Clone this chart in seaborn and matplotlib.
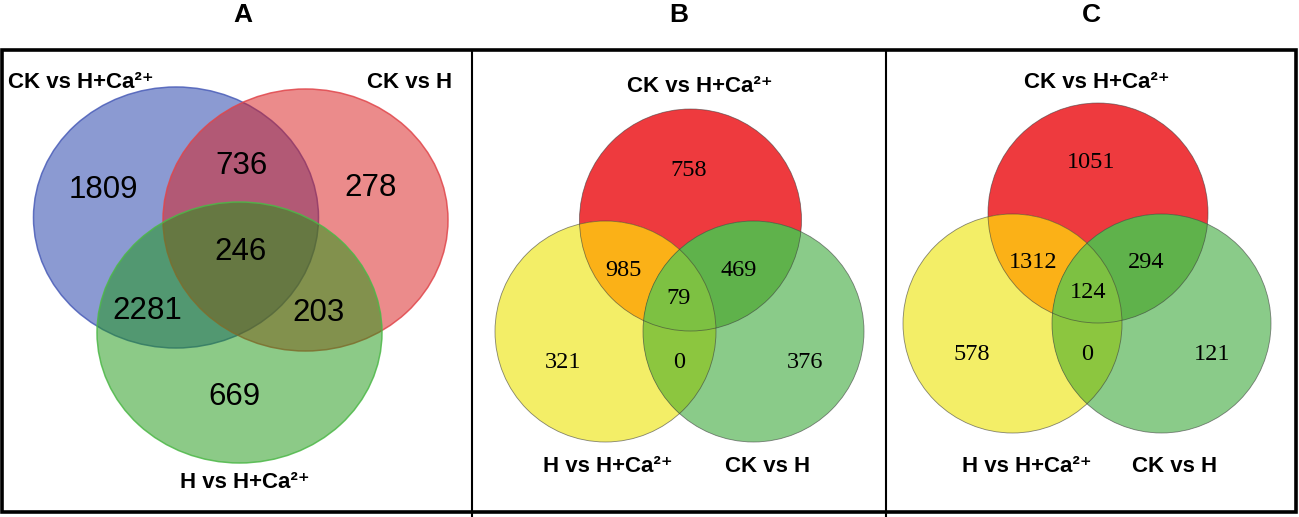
import numpy as np
import matplotlib
matplotlib.use('Agg')
from matplotlib import pyplot as plt
from matplotlib.patches import Ellipse, Circle, Polygon, Rectangle
from matplotlib.colors import to_rgba
import seaborn as sns

# Venn counts, region order: only1, only2, only3, 1&2, 1&3, 2&3, all
region_keys = ['100', '010', '001', '110', '101', '011', '111']
counts_a = [1809, 278, 669, 736, 2281, 203, 246]
counts_b = [758, 321, 376, 985, 469, 0, 79]
counts_c = [1051, 578, 121, 1312, 294, 0, 124]

panel_titles = ['A', 'B', 'C']
set_labels_a = ['CK vs H+Ca²⁺', 'CK vs H', 'H vs H+Ca²⁺']
set_labels_bc = ['CK vs H+Ca²⁺', 'H vs H+Ca²⁺', 'CK vs H']

sns.set_theme(style='white', rc={'text.color': 'black'})
plt.rcParams['font.family'] = ['Liberation Sans', 'DejaVu Sans']

W, H = 1299, 517
fig = plt.figure(figsize=(W / 100, H / 100), dpi=100)
ax = fig.add_axes([0, 0, 1, 1])
ax.set_xlim(0, W)
ax.set_ylim(H, 0)
ax.axis('off')

# ---- panel A: transparent ellipses ----
ell_a = [((176, 217.5), 285, 261, '#1937A7', '#4A5DB8'),
         ((305.5, 220), 285, 262, '#D91919', '#E0464B'),
         ((239.5, 332.5), 285, 261, '#1B9711', '#4DB848')]
for (c, w, h, fc, ec) in ell_a:
    ax.add_patch(Ellipse(c, w, h, facecolor=to_rgba(fc, 0.5),
                         edgecolor=to_rgba(ec, 0.85), lw=1.1))

pos_a = [(103, 190), (371, 188), (234, 397), (242, 166), (147, 311), (319, 313), (241, 252)]
for (x, y), n in zip(pos_a, counts_a):
    ax.text(x, y, str(n), fontsize=22.5, ha='center', va='center', color='black')

lab_kw = dict(fontsize=16, fontweight='bold', va='center', color='black')
ax.text(8, 82, set_labels_a[0], ha='left', **lab_kw)
ax.text(452, 82, set_labels_a[1], ha='right', **lab_kw)
ax.text(245, 482, set_labels_a[2], ha='center', **lab_kw)


# ---- panels B and C: flat coloured circles ----
def triple_poly(circles, n=720):
    pts = []
    t = np.linspace(0, 2 * np.pi, n, endpoint=False)
    for i, (cx, cy, r) in enumerate(circles):
        px, py = cx + r * np.cos(t), cy + r * np.sin(t)
        ok = np.ones(n, bool)
        for j, (ox, oy, orr) in enumerate(circles):
            if j != i:
                ok &= (px - ox) ** 2 + (py - oy) ** 2 <= (orr + 0.01) ** 2
        pts += list(zip(px[ok], py[ok]))
    pts = np.array(pts)
    m = pts.mean(axis=0)
    ang = np.arctan2(pts[:, 1] - m[1], pts[:, 0] - m[0])
    return pts[np.argsort(ang)]


cols = {'100': '#EE3A3E', '010': '#F3EE67', '001': '#8ACB89',
        '110': '#FBB117', '101': '#5FB24B', '011': '#8CC63F', '111': '#7DC142'}


def flat_venn(circles):
    patches = []
    for (cx, cy, r), k in zip(circles, ['100', '010', '001']):
        p = Circle((cx, cy), r, facecolor=cols[k], edgecolor='none')
        ax.add_patch(p)
        patches.append(p)
    for (a, b), k in zip([(1, 0), (2, 0), (2, 1)], ['110', '101', '011']):
        cx, cy, r = circles[a]
        p = Circle((cx, cy), r, facecolor=cols[k], edgecolor='none')
        ax.add_patch(p)
        p.set_clip_path(patches[b])
    ax.add_patch(Polygon(triple_poly(circles), closed=True,
                         facecolor=cols['111'], edgecolor='none'))
    for (cx, cy, r) in circles:
        ax.add_patch(Circle((cx, cy), r, facecolor='none',
                            edgecolor=to_rgba('#3a3a3a', 0.6), lw=0.6))


circ_b = [(690.5, 220, 111), (605.5, 331.5, 110.5), (753.5, 331.5, 110.5)]
circ_c = [(1098, 213, 110), (1012.5, 323.5, 109.5), (1161.5, 323.5, 109.5)]
flat_venn(circ_b)
flat_venn(circ_c)

pos_b = [(689, 170), (563, 363), (805, 363), (623, 270), (739, 270), (679, 363), (679, 298)]
pos_c = [(1091, 163), (972, 355), (1212, 355), (1033, 263), (1146, 263), (1087, 355), (1088, 292)]
for pos, cnt in [(pos_b, counts_b), (pos_c, counts_c)]:
    for (x, y), n in zip(pos, cnt):
        ax.text(x, y, str(n), fontsize=17.5, ha='center', va='center',
                family='Liberation Serif', color='black')

for (x1, y1), (x2, y2), (x3, y3) in [((700, 86), (608, 467), (768, 467)),
                                     ((1097, 83), (1027, 466), (1175, 466))]:
    ax.text(x1, y1, set_labels_bc[0], ha='center', **lab_kw)
    ax.text(x2, y2, set_labels_bc[1], ha='center', **lab_kw)
    ax.text(x3, y3, set_labels_bc[2], ha='center', **lab_kw)

# ---- titles and frame ----
for t, x in zip(panel_titles, [243, 679, 1091]):
    ax.text(x, 15, t, fontsize=19, fontweight='bold', ha='center', va='center',
            color='black')

ax.add_patch(Rectangle((2.5, 50), 1294, 462, facecolor='none', edgecolor='black', lw=2.6))
for x in [472, 886]:
    ax.plot([x, x], [50, 517], color='black', lw=1.5, solid_capstyle='butt')

fig.savefig('out.png', dpi=100)
